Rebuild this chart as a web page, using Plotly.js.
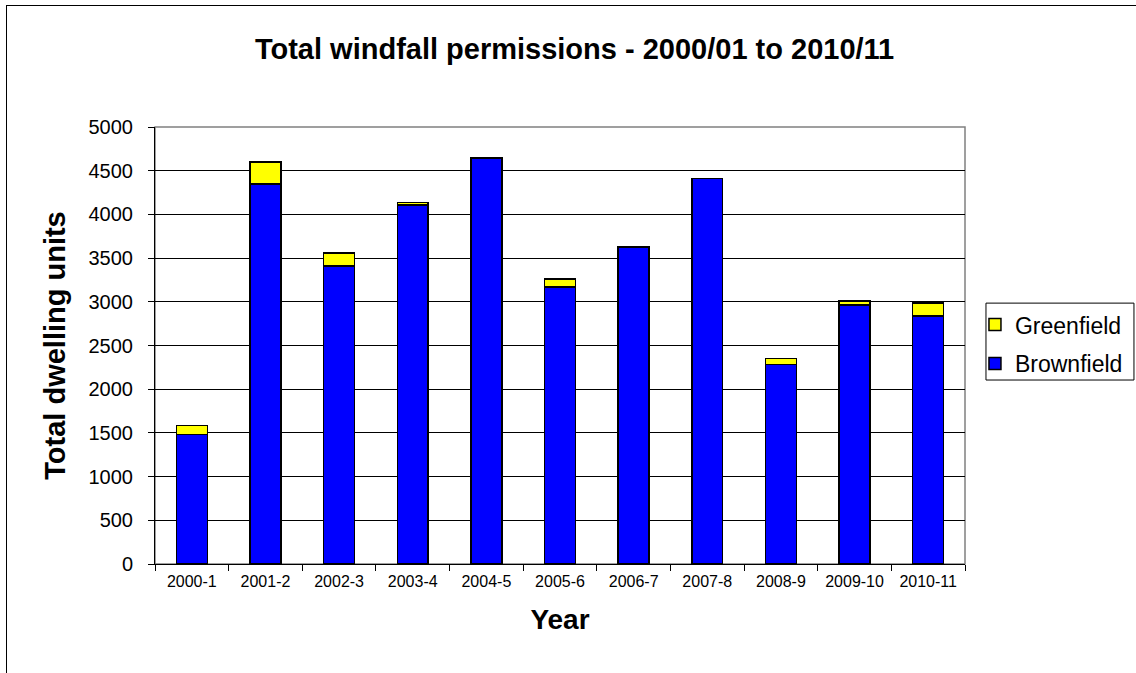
<!DOCTYPE html>
<html>
<head>
<meta charset="utf-8">
<script src="https://cdn.plot.ly/plotly-3.0.1.min.js"></script>
<style>
html,body{margin:0;padding:0;background:#fff;overflow:hidden;}
#frame{position:absolute;left:6px;top:5px;width:1200px;height:700px;border:1px solid #000;pointer-events:none;z-index:5;}
#chart{position:absolute;left:0;top:0;width:1136px;height:673px;}
</style>
</head>
<body>
<div id="chart"></div>
<div id="frame"></div>
<script>
var years = ["2000-1","2001-2","2002-3","2003-4","2004-5","2005-6","2006-7","2007-8","2008-9","2009-10","2010-11"];
var brownfield = [1480, 4350, 3410, 4105, 4640, 3170, 3625, 4410, 2285, 2965, 2835];
var greenfield = [105, 250, 150, 30, 5, 90, 0, 0, 65, 45, 150];
var yTicks = [0,500,1000,1500,2000,2500,3000,3500,4000,4500,5000];

var fontFam = "Liberation Sans, Arial, sans-serif";

var traces = [
  {type:"bar", name:"Brownfield", legendgroup:"b", legendrank:2, x:years, y:brownfield,
   marker:{color:"#0000ff", line:{color:"#000", width:1.5}}},
  {type:"bar", name:"Greenfield", legendgroup:"g", legendrank:1, x:years, y:greenfield,
   marker:{color:"#ffff00", line:{color:"#000", width:1.5}}}
];

var layout = {
  width:1136, height:673,
  margin:{l:155, r:171, t:127, b:109, autoexpand:false},
  paper_bgcolor:"#fff", plot_bgcolor:"#fff",
  barmode:"stack", bargap:0.58,
  font:{family:fontFam, color:"#000"},
  title:{text:"<b>Total windfall permissions - 2000/01 to 2010/11</b>", font:{size:29, family:fontFam, color:"#000"},
         x:0.518, xref:"paper", xanchor:"center", y:0.928, yref:"container", yanchor:"middle"},
  xaxis:{type:"category", tickson:"boundaries", ticks:"outside", ticklen:6, tickcolor:"#000",
         showline:true, linecolor:"#000", linewidth:1, showgrid:false, ticklabelstandoff:3,
         tickfont:{size:16, family:fontFam}, tickangle:0, automargin:false,
         title:{text:"<b>Year</b>", font:{size:28, family:fontFam}, standoff:20}},
  yaxis:{range:[0,5000], tickvals:yTicks, ticktext:yTicks.map(String), ticks:"outside", ticklen:6, tickcolor:"#000",
         showline:true, linecolor:"#000", linewidth:1, showgrid:true, gridcolor:"#000", gridwidth:1,
         tickfont:{size:20, family:fontFam}, zeroline:false, ticklabelstandoff:11, automargin:false,
         title:{text:"<b>Total dwelling units</b>", font:{size:29, family:fontFam}, standoff:14}},
  legend:{x:1.0123, xanchor:"left", y:0.597, yanchor:"top", traceorder:"grouped",
          borderwidth:0, bgcolor:"rgba(0,0,0,0)",
          font:{size:23, family:fontFam}, itemwidth:30, tracegroupgap:6},
  shapes:[
    {type:"rect", xref:"paper", yref:"paper", x0:0, x1:1, y0:0, y1:1,
     line:{color:"#808080", width:1.5}, fillcolor:"rgba(0,0,0,0)", layer:"below"},
    {type:"rect", xref:"paper", yref:"paper", x0:1.0259, x1:1.2086, y0:0.421, y1:0.597,
     line:{color:"#000", width:1}, fillcolor:"#fff", layer:"below"}
  ],
  showlegend:true
};

Plotly.newPlot("chart", traces, layout, {displayModeBar:false, staticPlot:true});
</script>
</body>
</html>
